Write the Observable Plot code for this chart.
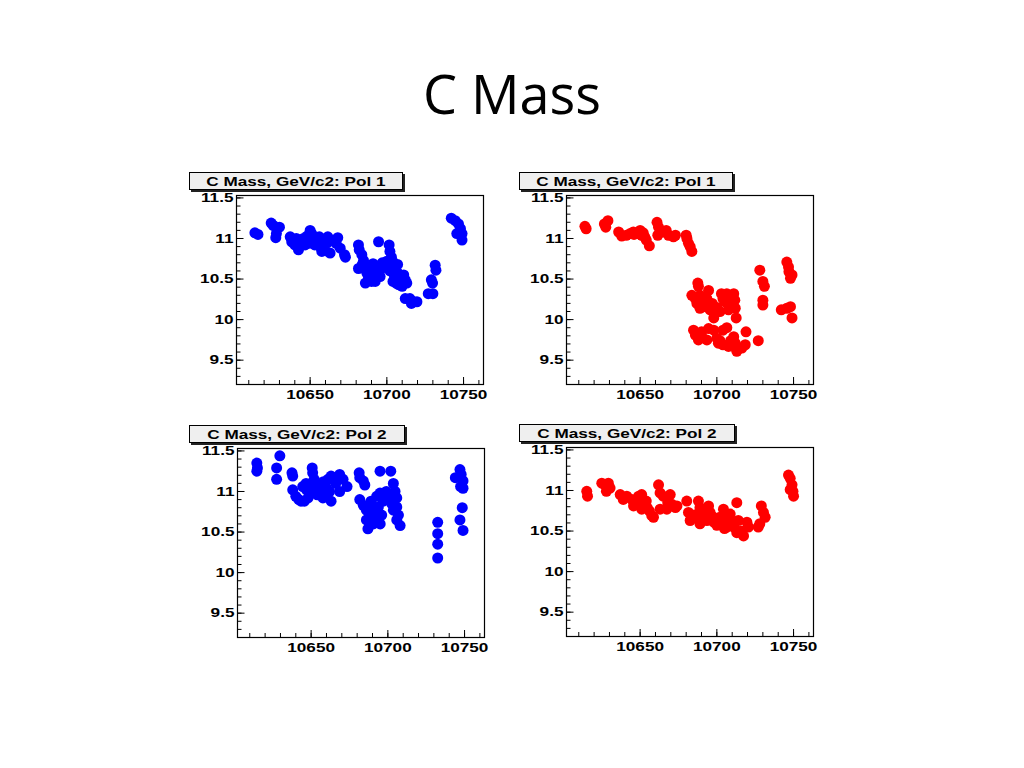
<!DOCTYPE html>
<html>
<head>
<meta charset="utf-8">
<script src="https://cdn.jsdelivr.net/npm/d3@7"></script>
<script src="https://cdn.jsdelivr.net/npm/@observablehq/plot@0.6"></script>
<style>
  html, body { margin: 0; padding: 0; background: #fff; }
  #page { position: relative; width: 1024px; height: 768px; overflow: hidden; background: #fff; }
  #title { position: absolute; left: 0; width: 1024px; top: 66px; text-align: center;
           font-family: "Open Sans", sans-serif; font-size: 54px; line-height: 1; color: #000; }
  .hbox { position: absolute; height: 16px; background: #efefef; border: 1px solid #000;
          box-shadow: 2px 2px 0 #222; display: flex; align-items: center; justify-content: center;
          font-family: "Liberation Sans", Arial, sans-serif; font-weight: bold; font-size: 13px; color: #000; }
  .hbox span { display: inline-block; transform: scaleX(1.32); white-space: nowrap; }
  .panel { position: absolute; }
</style>
</head>
<body>
<div id="page">
  <div id="title">C Mass</div>
</div>
<script>
// ---- data ----
const panelTitles = ["C Mass, GeV/c2: Pol 1", "C Mass, GeV/c2: Pol 1", "C Mass, GeV/c2: Pol 2", "C Mass, GeV/c2: Pol 2"];
const xTickLabels = [10650, 10700, 10750];
const yTickLabels = [9.5, 10, 10.5, 11, 11.5];
const xDomain = [10602, 10763];
const yDomain = [9.2, 11.53];

// Top-left: Pol 1 (blue)
const pol1BlueX = [10614,10616,10624.6,10626,10630,10628,10627.6,10637,10638,10640,10642.4,10641,10645.6,10646.7,10650,10651,10652,10649,10653,10654,10656.5,10657.6,10655,10661.5,10662,10663,10668,10667,10669.6,10672.4,10673,10681.5,10682,10683.7,10684.8,10681.5,10686,10687,10686,10689,10690,10692.4,10694.6,10693.5,10695.6,10691,10701.5,10702,10703,10704,10699,10700,10705.4,10706.5,10704,10705,10707.6,10711,10712,10710,10713,10712,10715,10717.4,10719.6,10716,10727,10730,10729,10729.8,10731.5,10732,10742,10744.6,10746.7,10748,10745.6,10749,10749,
  10644,10648,10647,10656,10658,10660,10643,10639,10684,10688,10690,10692,10688,10696,10697,10702,10707,10708,10709,10706,10700];
const pol1BlueY = [11.07,11.05,11.19,11.16,11.14,11.06,11.01,11.02,10.96,10.92,10.86,11.0,11.0,10.92,11.1,11.06,11.0,10.94,10.92,11.0,10.9,10.84,10.96,11.02,10.96,10.82,11.01,10.94,10.88,10.8,10.77,10.92,10.86,10.8,10.73,10.63,10.65,10.57,10.45,10.55,10.47,10.47,10.96,10.61,10.53,10.69,10.92,10.84,10.77,10.71,10.69,10.65,10.65,10.59,10.47,10.53,10.43,10.55,10.49,10.41,10.45,10.26,10.26,10.22,10.22,10.2,10.32,10.32,10.49,10.45,10.67,10.61,11.25,11.22,11.18,11.12,11.06,11.06,10.98,
  10.95,11.03,10.98,11.02,10.92,10.85,10.9,10.99,10.68,10.62,10.6,10.55,10.5,10.62,10.7,10.6,10.68,10.52,10.47,10.45,10.72];

// Top-right: Pol 1 (red)
const pol1RedX = [10614,10614.8,10626.7,10629,10627.6,10636,10638,10641,10643.5,10645.6,10648,10650,10651,10653,10654,10656,10661,10662,10661.5,10665,10667,10668.5,10671.7,10673,10680,10680.5,10681.5,10682.6,10683.7,10687.6,10688,10683.7,10686,10687,10689,10690,10693.5,10694.6,10692.4,10695.6,10699,10698,10703,10704,10706.5,10705.4,10702,10707.6,10708.7,10711,10711.7,10712,10712.6,10706.5,10684.8,10686,10688,10690,10693.5,10694.6,10698,10700,10701,10704,10704,10707.6,10711,10712,10713,10716.3,10718.5,10719,10727,10728,10730,10731,10730,10730,10745.6,10746.7,10747,10748,10749,10742,10745.6,10748,10749,
  10646,10652,10689,10691,10697,10700,10709,10690,10702,10709,10714];
const pol1RedY = [11.15,11.12,11.18,11.22,11.14,11.08,11.03,11.04,11.06,11.08,11.06,11.1,11.04,11.02,10.98,10.91,11.2,11.14,11.04,11.08,11.1,11.04,11.02,11.04,11.04,11.0,10.94,10.9,10.84,10.45,10.41,10.3,10.26,10.2,10.14,10.24,10.26,10.36,10.16,10.12,10.08,10.02,10.32,10.26,10.32,10.22,10.1,10.12,10.16,10.32,10.24,10.14,10.02,9.9,9.87,9.81,9.75,9.85,9.75,9.89,9.87,9.77,9.71,9.87,9.69,9.67,9.79,9.71,9.61,9.65,9.69,9.85,9.74,10.61,10.47,10.41,10.24,10.18,10.71,10.65,10.59,10.51,10.55,10.12,10.14,10.16,10.02,
  11.05,11.07,10.3,10.18,10.2,10.15,10.28,9.8,9.74,9.74,9.64];

// Bottom-left: Pol 2 (blue)
const pol2BlueX = [10614.6,10615,10614.6,10627.5,10629.6,10627.5,10637.5,10638,10638,10640,10642,10643.4,10645.6,10644.5,10646.7,10650.7,10651,10649,10648,10652,10653,10654,10656.6,10657.7,10660,10661,10663,10662,10663,10665.3,10668.6,10668.6,10670.8,10673.4,10681.3,10681.7,10684,10685,10681.7,10684,10686,10686,10687,10690.5,10691.6,10689,10692.7,10694.9,10694.9,10693.8,10696,10695,10700,10701.9,10703.6,10704.7,10702.5,10705.8,10699,10705.8,10706.9,10705.8,10708,10703.6,10732.5,10732.5,10732.5,10732.5,10744,10747,10747.8,10749,10749,10747.4,10748.5,10747,10749,
  10647,10650,10655,10658,10660,10666,10688,10690,10688,10697,10701];
const pol2BlueY = [11.35,11.29,11.25,11.29,11.44,11.15,11.23,11.19,11.02,10.94,10.9,10.88,10.88,11.06,11.1,11.29,11.23,11.0,10.92,11.15,11.06,10.96,11.08,10.92,11.04,11.15,11.19,11.0,10.88,11.17,11.21,11.0,11.15,11.06,11.23,11.17,11.13,11.08,10.9,10.83,10.77,10.65,10.54,10.6,10.69,10.88,10.94,10.98,11.25,10.81,10.71,10.6,10.94,11.25,11.1,11.0,10.85,10.92,11.0,10.81,10.71,10.65,10.58,10.77,10.62,10.48,10.35,10.18,11.17,11.27,11.21,11.13,11.04,11.06,10.8,10.65,10.52,
  11.02,11.1,11.0,11.12,10.95,11.1,10.72,10.8,10.6,10.88,10.9];

// Bottom-right: Pol 2 (red)
const pol2RedX = [10615.2,10615.7,10625,10627,10628,10630.4,10629.3,10637,10639,10641.3,10644.6,10645.7,10649,10651,10652,10651,10654,10654.6,10657.6,10658.7,10662,10663,10665,10663,10667.4,10669.6,10670.7,10673,10674,10680.4,10681.5,10682.6,10684.8,10688,10689,10691,10689,10693.5,10694.6,10695.6,10698,10700,10702,10704.3,10705,10705,10708.7,10708.7,10706.5,10711,10713,10713,10714,10717.4,10719.6,10720.6,10728,10729,10730.4,10731.5,10727,10746.7,10747.8,10749,10749.6,10750,10747.8,
  10647,10656,10668,10686,10692,10697,10701,10707,10710,10716];
const pol2RedY = [10.99,10.93,11.09,11.07,10.99,11.03,11.09,10.95,10.89,10.93,10.89,10.81,10.93,10.95,10.85,10.77,10.87,10.79,10.69,10.67,11.07,10.97,10.93,10.77,10.77,10.95,10.83,10.79,10.81,10.87,10.73,10.63,10.67,10.87,10.79,10.69,10.59,10.63,10.81,10.73,10.61,10.57,10.67,10.77,10.63,10.53,10.71,10.59,10.55,10.55,10.85,10.48,10.63,10.44,10.61,10.55,10.59,10.81,10.73,10.67,10.55,11.19,11.15,11.07,10.99,10.93,11.01,
  10.85,10.75,10.85,10.7,10.74,10.68,10.62,10.66,10.62,10.5];

const seriesX = [pol1BlueX, pol1RedX, pol2BlueX, pol2RedX];
const seriesY = [pol1BlueY, pol1RedY, pol2BlueY, pol2RedY];
const colors = ["#0000ff", "#ff0000", "#0000ff", "#ff0000"];

// ---- layout ----
const frameW = 247, frameH = 189;
const ML = 60, MR = 12, MT = 12, MB = 26;
const frames = [[236, 195], [566, 195], [237, 448], [566, 447]];
const boxes = [[189, 172, 212], [519, 172, 212], [189, 425, 214], [519, 424, 214]];

const xMinor = d3.range(10610, 10761, 10);
const yMinor = d3.range(93, 116).map(d => d / 10);

const page = document.getElementById("page");

for (let i = 0; i < 4; i++) {
  const data = seriesX[i].map((x, j) => ({x, y: seriesY[i][j]}));
  const svg = Plot.plot({
    width: ML + frameW + MR,
    height: MT + frameH + MB,
    marginLeft: ML, marginRight: MR, marginTop: MT, marginBottom: MB,
    style: {fontFamily: "Liberation Sans, Arial, sans-serif", fontWeight: "bold", fontSize: "13px", color: "#000", background: "transparent", overflow: "visible"},
    x: {domain: xDomain},
    y: {domain: yDomain},
    marks: [
      Plot.dot(data, {x: "x", y: "y", r: 5.5, fill: colors[i], stroke: "none"}),
      Plot.ruleX(xMinor, {stroke: "#000", strokeWidth: 1, insetTop: frameH - 4}),
      Plot.ruleX(xTickLabels, {stroke: "#000", strokeWidth: 1, insetTop: frameH - 7}),
      Plot.ruleY(yMinor, {stroke: "#000", strokeWidth: 1, insetRight: frameW - 4.5}),
      Plot.ruleY(yTickLabels, {stroke: "#000", strokeWidth: 1, insetRight: frameW - 7.5}),
      Plot.axisX(xTickLabels, {tickSize: 0, tickPadding: 5, label: null, fill: "#000", tickFormat: d => String(d)}),
      Plot.axisY(yTickLabels, {tickSize: 0, tickPadding: 3, label: null, fill: "#000", tickFormat: d => String(d)}),
      Plot.frame({stroke: "#000", strokeWidth: 1.2})
    ]
  });
  svg.classList.add("panel");
  svg.style.left = (frames[i][0] - ML) + "px";
  svg.style.top = (frames[i][1] - MT) + "px";
  page.appendChild(svg);
  // stretch tick labels horizontally like the original (wide ROOT font)
  svg.querySelectorAll("text").forEach(t => {
    const len = t.getComputedTextLength();
    if (len > 0) {
      t.setAttribute("textLength", (len * 1.32).toFixed(1));
      t.setAttribute("lengthAdjust", "spacingAndGlyphs");
    }
  });

  const b = document.createElement("div");
  b.className = "hbox";
  b.style.left = boxes[i][0] + "px";
  b.style.top = boxes[i][1] + "px";
  b.style.width = boxes[i][2] + "px";
  const s = document.createElement("span");
  s.textContent = panelTitles[i];
  b.appendChild(s);
  page.appendChild(b);
}
</script>
</body>
</html>
